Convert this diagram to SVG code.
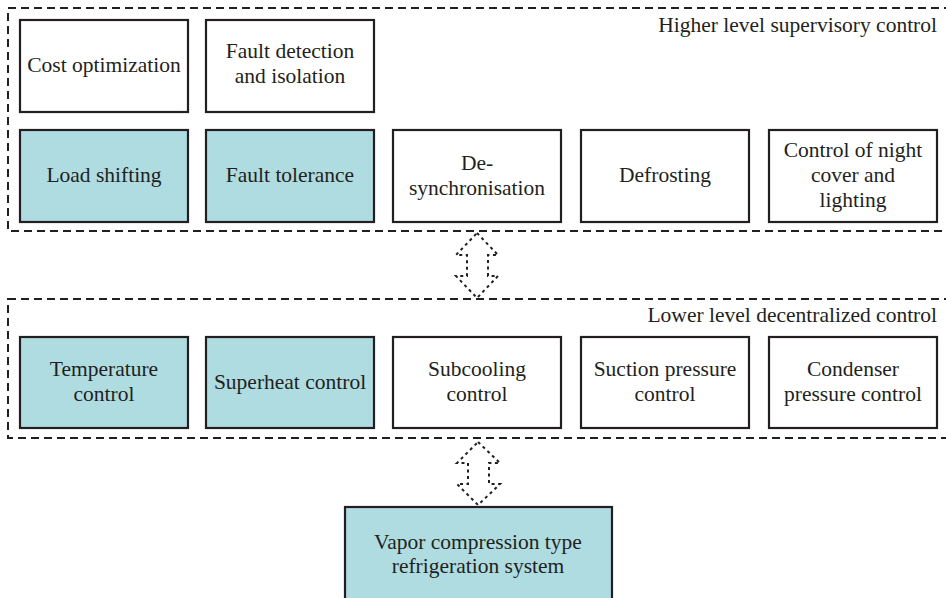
<svg xmlns="http://www.w3.org/2000/svg" width="946" height="598" viewBox="0 0 946 598">
<style>
.group{fill:none;stroke:#231f20;stroke-width:2;stroke-dasharray:8 5}
.box{fill:#ffffff;stroke:#231f20;stroke-width:2.2}
.blue{fill:#aedce1}
text{font-family:"Liberation Serif","Times New Roman",serif;font-size:21.5px;fill:#231f20}
.c{text-anchor:middle}
.r{text-anchor:end}
.arrow{fill:none;stroke:#231f20;stroke-width:2;stroke-dasharray:3 3.5}
</style>
<rect width="946" height="598" fill="#ffffff"/>
<g id="higher-level">
<rect class="group" x="8" y="8" width="960" height="223"/>
<text class="r" x="937" y="32">Higher level supervisory control</text>
</g>
<g id="lower-level">
<rect class="group" x="8" y="299" width="960" height="139"/>
<text class="r" x="937" y="322">Lower level decentralized control</text>
</g>
<g id="cost-optimization">
<rect class="box" x="20" y="20" width="168" height="92"/>
<text class="c" x="104" y="72">Cost optimization</text>
</g>
<g id="fault-detection">
<rect class="box" x="206" y="20" width="168" height="92"/>
<text class="c" x="290" y="58">Fault detection</text>
<text class="c" x="290" y="83">and isolation</text>
</g>
<g id="load-shifting">
<rect class="box blue" x="20" y="130" width="168" height="92"/>
<text class="c" x="104" y="182">Load shifting</text>
</g>
<g id="fault-tolerance">
<rect class="box blue" x="206" y="130" width="168" height="92"/>
<text class="c" x="290" y="182">Fault tolerance</text>
</g>
<g id="desynchronisation">
<rect class="box" x="393" y="130" width="168" height="92"/>
<text class="c" x="477" y="170">De-</text>
<text class="c" x="477" y="195">synchronisation</text>
</g>
<g id="defrosting">
<rect class="box" x="581" y="130" width="168" height="92"/>
<text class="c" x="665" y="182">Defrosting</text>
</g>
<g id="night-cover">
<rect class="box" x="769" y="130" width="168" height="92"/>
<text class="c" x="853" y="157">Control of night</text>
<text class="c" x="853" y="182">cover and</text>
<text class="c" x="853" y="207">lighting</text>
</g>
<g id="temperature-control">
<rect class="box blue" x="20" y="337" width="168" height="91"/>
<text class="c" x="104" y="376">Temperature</text>
<text class="c" x="104" y="401">control</text>
</g>
<g id="superheat-control">
<rect class="box blue" x="206" y="337" width="168" height="91"/>
<text class="c" x="290" y="389">Superheat control</text>
</g>
<g id="subcooling-control">
<rect class="box" x="393" y="337" width="168" height="91"/>
<text class="c" x="477" y="376">Subcooling</text>
<text class="c" x="477" y="401">control</text>
</g>
<g id="suction-pressure-control">
<rect class="box" x="581" y="337" width="168" height="91"/>
<text class="c" x="665" y="376">Suction pressure</text>
<text class="c" x="665" y="401">control</text>
</g>
<g id="condenser-pressure-control">
<rect class="box" x="769" y="337" width="168" height="91"/>
<text class="c" x="853" y="376">Condenser</text>
<text class="c" x="853" y="401">pressure control</text>
</g>
<g id="refrigeration-system">
<rect class="box blue" x="345" y="507" width="267" height="110"/>
<text class="c" x="478" y="549">Vapor compression type</text>
<text class="c" x="478" y="573">refrigeration system</text>
</g>
<g id="connectors">
<path class="arrow" d="M477,233 L498,255 L488,255 L488,276 L498,276 L477,298 L456,276 L467,276 L467,255 L456,255 Z"/>
<path class="arrow" d="M478,442 L500,463 L489,463 L489,484 L500,484 L478,505 L457,484 L468,484 L468,463 L457,463 Z"/>
</g>
</svg>
